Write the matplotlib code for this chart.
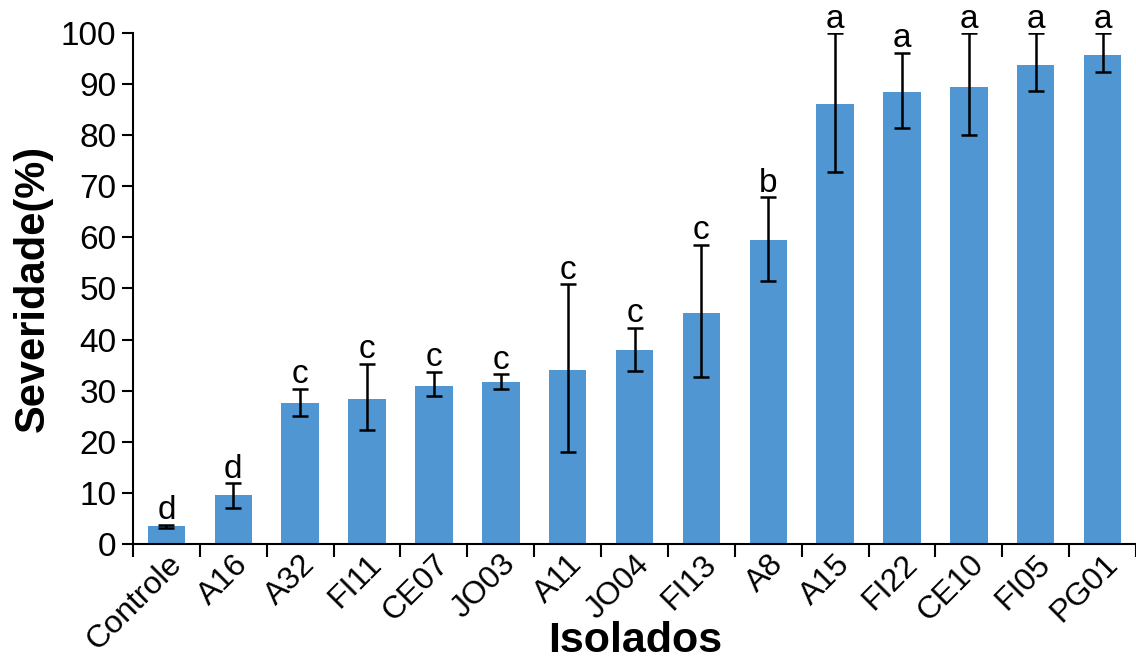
import matplotlib.pyplot as plt
import numpy as np

isolados = ['Controle', 'A16', 'A32', 'FI11', 'CE07', 'JO03', 'A11', 'JO04',
            'FI13', 'A8', 'A15', 'FI22', 'CE10', 'FI05', 'PG01']
severidade = [3.4, 9.5, 27.5, 28.4, 30.8, 31.7, 34.1, 37.9,
              45.1, 59.5, 86.1, 88.5, 89.4, 93.7, 95.7]
err_baixo = [0.3, 2.5, 2.4, 6.1, 1.8, 1.3, 16.1, 4.1,
             12.4, 8.1, 13.3, 7.1, 9.4, 5.1, 3.3]
err_cima = [0.3, 2.3, 2.8, 6.8, 2.9, 1.5, 16.7, 4.4,
            13.4, 8.4, 13.9, 7.7, 10.6, 6.3, 4.3]
letras = ['d', 'd', 'c', 'c', 'c', 'c', 'c', 'c', 'c', 'b',
          'a', 'a', 'a', 'a', 'a']

plt.rcParams['font.family'] = ['Liberation Sans', 'DejaVu Sans']

fig = plt.figure(figsize=(11.36, 6.66), dpi=100)
ax = fig.add_axes([0.1171, 0.1837, 0.8829, 0.7663])

x = np.arange(len(isolados))
ax.bar(x, severidade, width=0.56, color='#5096D3',
       yerr=[err_baixo, err_cima], capsize=6,
       error_kw=dict(ecolor='black', elinewidth=1.8, capthick=1.8))

for xi, v, e, l in zip(x, severidade, err_cima, letras):
    ax.annotate(l, (xi, v + e), xytext=(0, -1), textcoords='offset points',
                ha='center', va='bottom', fontsize=24, clip_on=False)

ax.set_xlim(-0.5, len(isolados) - 0.5)
ax.set_ylim(0, 100)
ax.set_yticks(range(0, 101, 10))
ax.tick_params(axis='y', labelsize=24, length=8, width=1.5, direction='out',
               pad=4)

# ticks on the category boundaries, labels centred under the bars
ax.set_xticks(np.arange(-0.5, len(isolados), 1.0))
ax.set_xticklabels([])
ax.set_xticks(x, minor=True)
ax.set_xticklabels(isolados, minor=True, rotation=45, ha='right',
                   rotation_mode='anchor', fontsize=23)
ax.tick_params(axis='x', which='major', length=9, width=1.5, direction='out')
ax.tick_params(axis='x', which='minor', length=0, pad=4)

for s in ['top', 'right']:
    ax.spines[s].set_visible(False)
for s in ['left', 'bottom']:
    ax.spines[s].set_linewidth(1.5)

ax.set_ylabel('Severidade(%)', fontsize=30, fontweight='bold', labelpad=6)
fig.text(0.559, 0.008, 'Isolados', ha='center', va='bottom', fontsize=31,
         fontweight='bold', family=['Liberation Sans Narrow', 'Liberation Sans'])

fig.savefig('out.png', dpi=100)
plt.close()
